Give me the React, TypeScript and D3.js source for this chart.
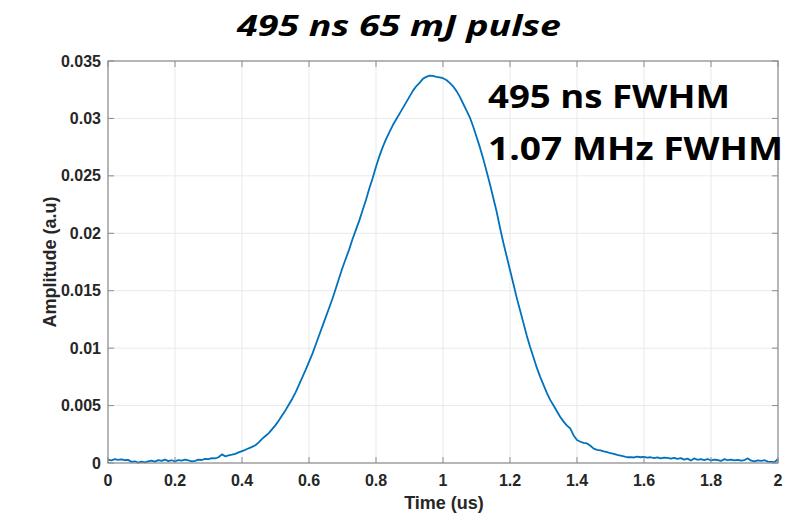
import React, { useEffect, useRef } from "react";
import * as d3 from "d3";

const timeUs: number[] = [
  0.00,0.01,0.02,0.03,0.04,0.05,0.06,0.07,0.08,0.09,
  0.10,0.11,0.12,0.13,0.14,0.15,0.16,0.17,0.18,0.19,
  0.20,0.21,0.22,0.23,0.24,0.25,0.26,0.27,0.28,0.29,
  0.30,0.31,0.32,0.33,0.34,0.35,0.36,0.37,0.38,0.39,
  0.40,0.41,0.42,0.43,0.44,0.45,0.46,0.47,0.48,0.49,
  0.50,0.51,0.52,0.53,0.54,0.55,0.56,0.57,0.58,0.59,
  0.60,0.61,0.62,0.63,0.64,0.65,0.66,0.67,0.68,0.69,
  0.70,0.71,0.72,0.73,0.74,0.75,0.76,0.77,0.78,0.79,
  0.80,0.81,0.82,0.83,0.84,0.85,0.86,0.87,0.88,0.89,
  0.90,0.91,0.92,0.93,0.94,0.95,0.96,0.97,0.98,0.99,
  1.00,1.01,1.02,1.03,1.04,1.05,1.06,1.07,1.08,1.09,
  1.10,1.11,1.12,1.13,1.14,1.15,1.16,1.17,1.18,1.19,
  1.20,1.21,1.22,1.23,1.24,1.25,1.26,1.27,1.28,1.29,
  1.30,1.31,1.32,1.33,1.34,1.35,1.36,1.37,1.38,1.39,
  1.40,1.41,1.42,1.43,1.44,1.45,1.46,1.47,1.48,1.49,
  1.50,1.51,1.52,1.53,1.54,1.55,1.56,1.57,1.58,1.59,
  1.60,1.61,1.62,1.63,1.64,1.65,1.66,1.67,1.68,1.69,
  1.70,1.71,1.72,1.73,1.74,1.75,1.76,1.77,1.78,1.79,
  1.80,1.81,1.82,1.83,1.84,1.85,1.86,1.87,1.88,1.89,
  1.90,1.91,1.92,1.93,1.94,1.95,1.96,1.97,1.98,1.99,
  2.00,
];

const amplitude: number[] = [
  0.00030,0.00022,0.00034,0.00028,0.00031,0.00024,0.00027,0.00010,0.00015,0.00003,
  0.00012,0.00006,0.00014,0.00020,0.00012,0.00025,0.00018,0.00030,0.00016,0.00024,
  0.00014,0.00026,0.00020,0.00030,0.00022,0.00015,0.00019,0.00030,0.00026,0.00036,
  0.00033,0.00042,0.00040,0.00050,0.00075,0.00058,0.00066,0.00072,0.00080,0.00092,
  0.00104,0.00115,0.00128,0.00140,0.00155,0.00180,0.00210,0.00235,0.00260,0.00295,
  0.00330,0.00370,0.00415,0.00460,0.00510,0.00560,0.00615,0.00680,0.00745,0.00810,
  0.00880,0.00950,0.01030,0.01110,0.01190,0.01270,0.01350,0.01430,0.01520,0.01610,
  0.01700,0.01780,0.01860,0.01950,0.02030,0.02110,0.02200,0.02290,0.02390,0.02480,
  0.02580,0.02670,0.02750,0.02820,0.02880,0.02940,0.02990,0.03040,0.03090,0.03140,
  0.03190,0.03240,0.03280,0.03310,0.03345,0.03362,0.03372,0.03370,0.03362,0.03358,
  0.03350,0.03335,0.03310,0.03280,0.03240,0.03190,0.03130,0.03070,0.03010,0.02930,
  0.02840,0.02750,0.02650,0.02540,0.02430,0.02310,0.02190,0.02050,0.01920,0.01800,
  0.01680,0.01560,0.01440,0.01330,0.01220,0.01110,0.01010,0.00920,0.00830,0.00750,
  0.00680,0.00610,0.00550,0.00500,0.00450,0.00400,0.00360,0.00325,0.00300,0.00240,
  0.00200,0.00185,0.00175,0.00170,0.00150,0.00125,0.00115,0.00110,0.00102,0.00095,
  0.00085,0.00080,0.00070,0.00065,0.00058,0.00050,0.00052,0.00048,0.00055,0.00050,
  0.00054,0.00046,0.00050,0.00042,0.00048,0.00040,0.00046,0.00044,0.00038,0.00045,
  0.00036,0.00042,0.00030,0.00038,0.00022,0.00040,0.00028,0.00034,0.00025,0.00035,
  0.00022,0.00030,0.00026,0.00018,0.00034,0.00024,0.00030,0.00022,0.00028,0.00020,
  0.00026,0.00040,0.00020,0.00014,0.00022,0.00018,0.00024,0.00012,0.00010,0.00008,
  0.00035,
];

const xTicks: number[] = [0, 0.2, 0.4, 0.6, 0.8, 1, 1.2, 1.4, 1.6, 1.8, 2];
const yTicks: number[] = [0, 0.005, 0.01, 0.015, 0.02, 0.025, 0.03, 0.035];

const titleText = "495 ns 65 mJ pulse";
const annotationLines: string[] = ["495 ns FWHM", "1.07 MHz FWHM"];
const xLabel = "Time (us)";
const yLabel = "Amplitude (a.u)";

export default function App() {
  const ref = useRef<SVGSVGElement>(null);

  useEffect(() => {
    const svg = d3.select(ref.current);
    svg.selectAll("*").remove();

    const W = 808, H = 513;
    const L = 108, R = 778, T = 61, B = 463;

    const x = d3.scaleLinear().domain([0, 2]).range([L, R]);
    const y = d3.scaleLinear().domain([0, 0.035]).range([B, T]);

    svg.append("rect").attr("width", W).attr("height", H).attr("fill", "#ffffff");

    // grid
    const g = svg.append("g");
    g.selectAll(".gx").data(xTicks).enter().append("line")
      .attr("x1", d => x(d)).attr("x2", d => x(d))
      .attr("y1", T).attr("y2", B)
      .attr("stroke", "#e9e9e9").attr("stroke-width", 1);
    g.selectAll(".gy").data(yTicks).enter().append("line")
      .attr("x1", L).attr("x2", R)
      .attr("y1", d => y(d)).attr("y2", d => y(d))
      .attr("stroke", "#e9e9e9").attr("stroke-width", 1);

    // curve
    const pts = timeUs.map((t, i) => [t, amplitude[i]] as [number, number]);
    const line = d3.line<[number, number]>().x(d => x(d[0])).y(d => y(d[1]));
    svg.append("path").datum(pts)
      .attr("d", line)
      .attr("fill", "none")
      .attr("stroke", "#0072BD")
      .attr("stroke-width", 1.8)
      .attr("stroke-linejoin", "round");

    // box
    const axisColor = "#8c8c8c";
    svg.append("rect")
      .attr("x", L).attr("y", T).attr("width", R - L).attr("height", B - T)
      .attr("fill", "none").attr("stroke", axisColor).attr("stroke-width", 1.2);

    // ticks (inward)
    const tl = 6;
    xTicks.forEach(d => {
      svg.append("line").attr("x1", x(d)).attr("x2", x(d)).attr("y1", B).attr("y2", B - tl)
        .attr("stroke", axisColor);
      svg.append("line").attr("x1", x(d)).attr("x2", x(d)).attr("y1", T).attr("y2", T + tl)
        .attr("stroke", axisColor);
    });
    yTicks.forEach(d => {
      svg.append("line").attr("x1", L).attr("x2", L + tl).attr("y1", y(d)).attr("y2", y(d))
        .attr("stroke", axisColor);
      svg.append("line").attr("x1", R).attr("x2", R - tl).attr("y1", y(d)).attr("y2", y(d))
        .attr("stroke", axisColor);
    });

    const tickFont = "'Liberation Sans', Arial, Helvetica, sans-serif";
    const fmt = (d: number) => String(d);

    svg.selectAll(".xl").data(xTicks).enter().append("text")
      .attr("x", d => x(d)).attr("y", B + 23)
      .attr("text-anchor", "middle")
      .attr("font-family", tickFont).attr("font-weight", "bold").attr("font-size", 16)
      .attr("fill", "#262626")
      .text(fmt);

    svg.selectAll(".yl").data(yTicks).enter().append("text")
      .attr("x", L - 7).attr("y", d => y(d) + 5.5)
      .attr("text-anchor", "end")
      .attr("font-family", tickFont).attr("font-weight", "bold").attr("font-size", 16)
      .attr("fill", "#262626")
      .text(fmt);

    svg.append("text")
      .attr("x", 444).attr("y", 509)
      .attr("text-anchor", "middle")
      .attr("font-family", tickFont).attr("font-weight", "bold").attr("font-size", 18)
      .attr("fill", "#262626")
      .text(xLabel);

    svg.append("text")
      .attr("transform", `translate(56, ${(T + B) / 2}) rotate(-90)`)
      .attr("text-anchor", "middle")
      .attr("font-family", tickFont).attr("font-weight", "bold").attr("font-size", 18)
      .attr("fill", "#262626")
      .text(yLabel);

    const calFont = "'Open Sans', 'Noto Sans', sans-serif";
    svg.append("text")
      .attr("x", 399).attr("y", 36)
      .attr("text-anchor", "middle")
      .attr("font-family", calFont).attr("font-weight", "bold").attr("font-style", "italic")
      .attr("font-size", 28)
      .attr("textLength", 324).attr("lengthAdjust", "spacingAndGlyphs")
      .attr("fill", "#000")
      .text(titleText);

    const annWidths = [242, 295];
    annotationLines.forEach((s, i) => {
      svg.append("text")
        .attr("x", 488).attr("y", 108 + i * 52)
        .attr("font-family", calFont).attr("font-weight", "bold")
        .attr("font-size", 32)
        .attr("textLength", annWidths[i]).attr("lengthAdjust", "spacingAndGlyphs")
        .attr("fill", "#000")
        .text(s);
    });
  }, []);

  return (
    <svg ref={ref} width={808} height={513}
      style={{ position: "absolute", left: 0, top: 0, display: "block" }} />
  );
}
